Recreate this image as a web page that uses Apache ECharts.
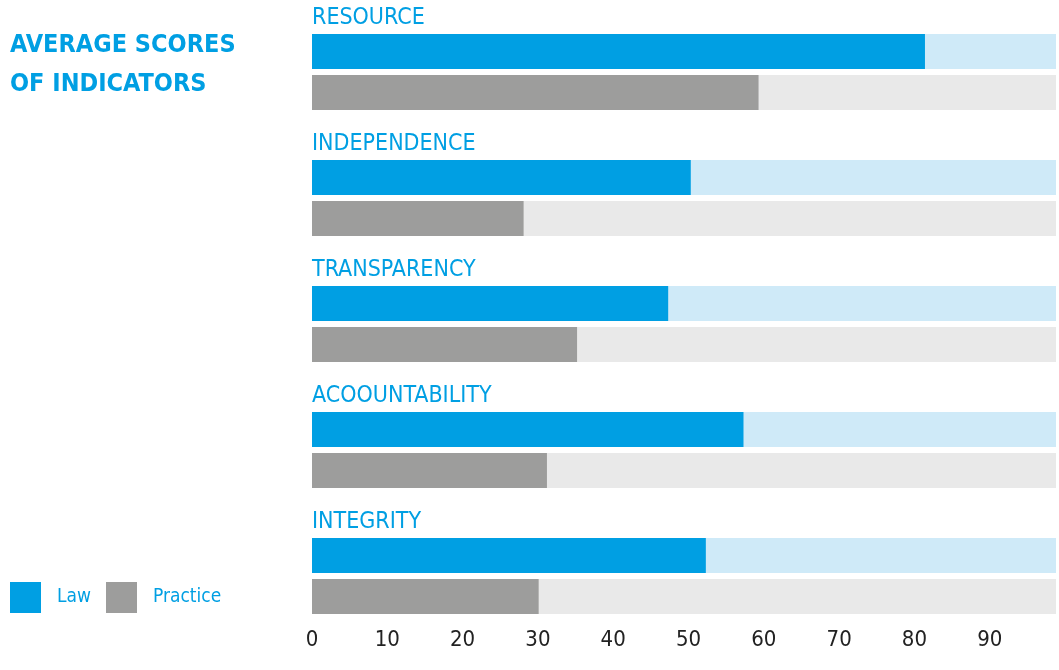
<!DOCTYPE html>
<html>
<head>
<meta charset="utf-8">
<title>Average scores of indicators</title>
<script src="https://cdn.jsdelivr.net/npm/echarts@6/dist/echarts.min.js"></script>
<style>
  html, body { margin: 0; padding: 0; background: #fff; overflow: hidden; }
  #chart { width: 1059px; height: 670px; }
</style>
</head>
<body>
<div id="chart"></div>
<script>
// 指标名称
const indicators = ['RESOURCE', 'INDEPENDENCE', 'TRANSPARENCY', 'ACOOUNTABILITY', 'INTEGRITY']
// 法律得分
const lawScores = [81.4, 50.3, 47.3, 57.3, 52.3]
// 实践得分
const practiceScores = [59.3, 28.1, 35.2, 31.2, 30.1]

const narrow = "'Liberation Sans Narrow', 'DejaVu Sans Condensed', 'Roboto', sans-serif"
const blue = '#009fe3'
const grey = '#9d9d9c'

const myChart = echarts.init(document.getElementById('chart'))

const option = {
  animation: false,
  title: {
    text: 'AVERAGE SCORES\nOF INDICATORS',
    left: 5,
    top: 21,
    textStyle: {
      color: blue,
      fontFamily: narrow,
      fontWeight: 'bold',
      fontSize: 25,
      lineHeight: 39
    }
  },
  legend: {
    left: 5,
    top: 577,
    orient: 'horizontal',
    icon: 'rect',
    itemWidth: 31,
    itemHeight: 31,
    itemGap: 15,
    data: ['Law', 'Practice'],
    textStyle: {
      color: blue,
      fontFamily: narrow,
      fontSize: 19,
      padding: [5, 0, 0, 11]
    }
  },
  grid: {
    left: 312,
    top: 9,
    right: 0,
    height: 630,
    containLabel: false
  },
  xAxis: {
    type: 'value',
    min: 0,
    max: 98.8,
    interval: 10,
    splitLine: { show: false },
    axisLine: { show: false },
    axisTick: { show: false },
    axisLabel: {
      margin: -10,
      color: '#222',
      fontFamily: narrow,
      fontSize: 22,
      // 只显示整十刻度
      formatter: function (value) {
        return value % 10 === 0 ? value : ''
      }
    }
  },
  yAxis: {
    type: 'category',
    inverse: true,
    data: indicators,
    axisLine: { show: false },
    axisTick: { show: false },
    axisLabel: { show: false }
  },
  series: [
    {
      name: 'Law',
      type: 'bar',
      data: lawScores,
      barWidth: 35,
      barGap: '17%',
      itemStyle: { color: blue },
      showBackground: true,
      backgroundStyle: { color: '#cfeaf8' },
      // 指标名称写在蓝色条上方
      label: {
        show: true,
        position: [0, -4],
        align: 'left',
        verticalAlign: 'bottom',
        formatter: '{b}',
        color: blue,
        fontFamily: narrow,
        fontSize: 23
      }
    },
    {
      name: 'Practice',
      type: 'bar',
      data: practiceScores,
      barWidth: 35,
      itemStyle: { color: grey },
      showBackground: true,
      backgroundStyle: { color: '#e9e9e9' }
    }
  ]
}

myChart.setOption(option)
</script>
</body>
</html>
